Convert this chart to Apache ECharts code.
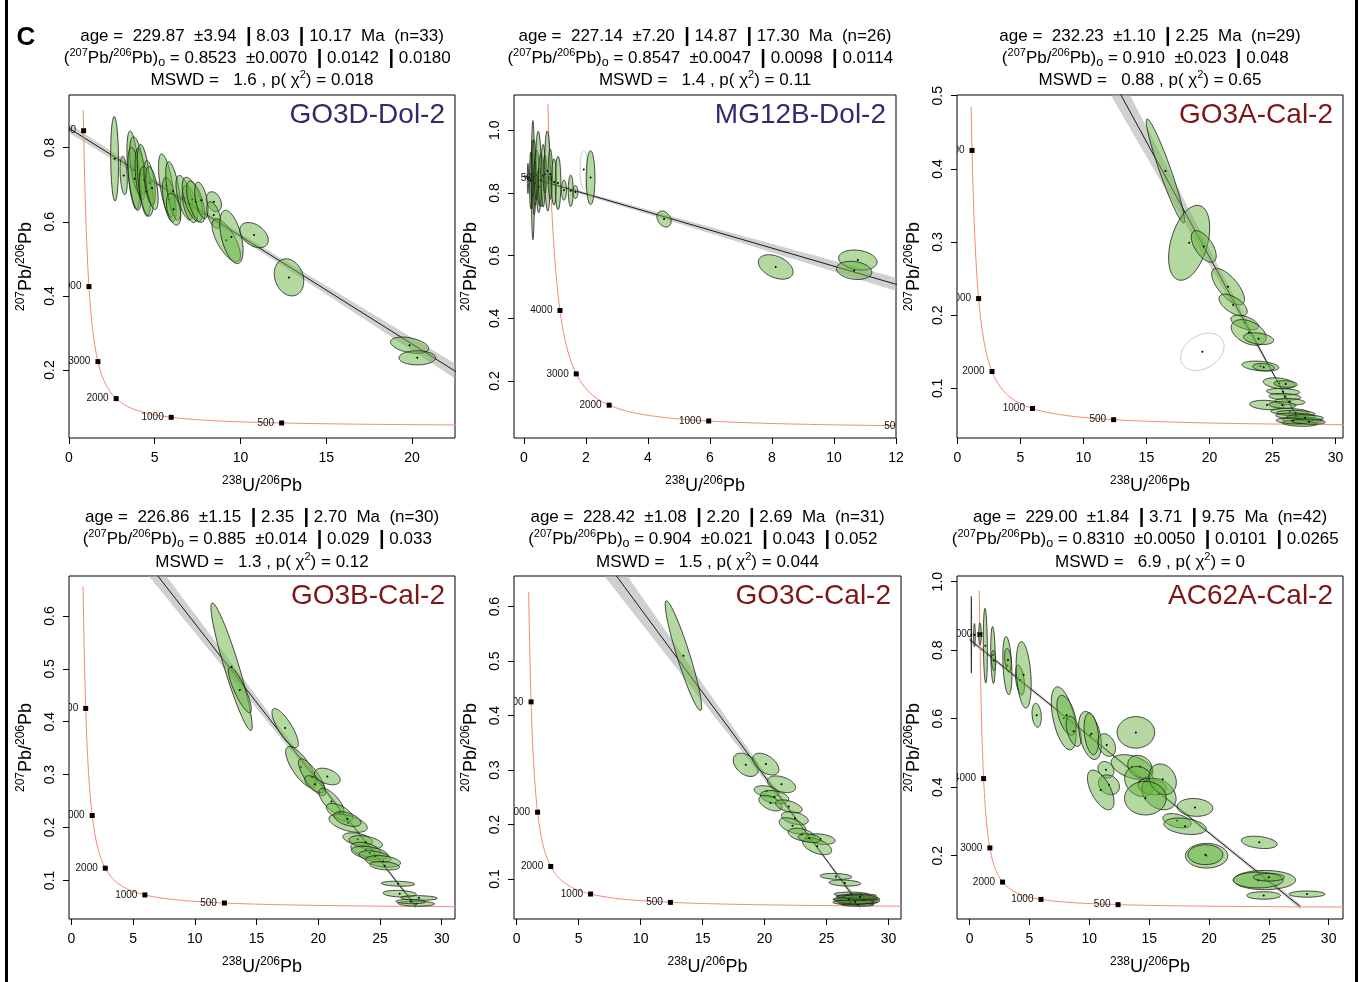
<!DOCTYPE html>
<html><head><meta charset="utf-8">
<script src="https://cdn.jsdelivr.net/npm/echarts@6/dist/echarts.min.js"></script>
<style>html,body{margin:0;padding:0;background:#fff}#c{width:1361px;height:982px}</style>
</head><body><div id="c"></div><script>
// ---------------- data ----------------
const sampleNames = ['GO3D-Dol-2','MG12B-Dol-2','GO3A-Cal-2','GO3B-Cal-2','GO3C-Cal-2','AC62A-Cal-2'];
const ageTxt  = ['229.87','227.14','232.23','226.86','228.42','229.00'];
const ageErrs = [['3.94','8.03','10.17'],['7.20','14.87','17.30'],['1.10','2.25'],['1.15','2.35','2.70'],['1.08','2.20','2.69'],['1.84','3.71','9.75']];
const nPts    = [33,26,29,30,31,42];
const y0Txt   = ['0.8523','0.8547','0.910','0.885','0.904','0.8310'];
const y0Errs  = [['0.0070','0.0142','0.0180'],['0.0047','0.0098','0.0114'],['0.023','0.048'],['0.014','0.029','0.033'],['0.021','0.043','0.052'],['0.0050','0.0101','0.0265']];
const mswdTxt = ['1.6','1.4','0.88','1.3','1.5','6.9'];
const pChiTxt = ['0.018','0.11','0.65','0.12','0.044','0'];

const xRange = [[0,22.51],[-0.32,12.0],[-0.03,30.6],[-0.19,31.08],[-0.215,31.0],[-1.06,31.2]];
const yRange = [[0.0167,0.942],[0.0183,1.1126],[0.0322,0.501],[0.027,0.6756],[0.0267,0.6562],[0.0153,1.0165]];
const xTicks = [[0,5,10,15,20],[0,2,4,6,8,10,12],[0,5,10,15,20,25,30],[0,5,10,15,20,25,30],[0,5,10,15,20,25,30],[0,5,10,15,20,25,30]];
const yTicks = [[0.2,0.4,0.6,0.8],[0.2,0.4,0.6,0.8,1.0],[0.1,0.2,0.3,0.4,0.5],[0.1,0.2,0.3,0.4,0.5,0.6],[0.1,0.2,0.3,0.4,0.5,0.6],[0.2,0.4,0.6,0.8,1.0]];

const concAges = [500,1000,2000,3000,4000,5000];     // Ma, labelled concordia ticks
const concTop  = [0.919,1.096,0.487,0.657,0.638,0.987]; // upper end of drawn concordia (207/206)
// confidence envelope half-width (207/206 units): [minimum, growth per unit x, x of minimum]
const bandPar  = [[0.007,0.0013,8],[0.005,0.00194,1.5],[0.0015,0.00185,26],[0.002,0.00124,24],[0.002,0.0018,24],[0.004,0.0004,12]];

// ellipses: [238U/206Pb, 207Pb/206Pb, half-width x, half-height y, rho, excluded]
const go3dDol = [
 [2.66,0.770,0.23,0.114,-0.1],[3.19,0.725,0.21,0.052,-0.3],[3.75,0.739,0.37,0.106,-0.5],[3.98,0.750,0.44,0.079,-0.5],
 [3.83,0.716,0.39,0.085,-0.5],[4.15,0.728,0.30,0.070,-0.4],[4.37,0.712,0.39,0.097,-0.5],[4.51,0.682,0.41,0.067,-0.4],
 [4.70,0.705,0.33,0.060,-0.5],[4.84,0.691,0.36,0.058,-0.5],[5.68,0.698,0.46,0.085,-0.6],[5.85,0.660,0.40,0.060,-0.5],
 [6.08,0.683,0.44,0.079,-0.6],[6.10,0.634,0.42,0.043,-0.4],[6.74,0.665,0.50,0.060,-0.6],[7.05,0.648,0.45,0.050,-0.5],
 [7.20,0.660,0.60,0.060,-0.6],[7.39,0.654,0.53,0.056,-0.6],[7.72,0.658,0.39,0.049,-0.5],[8.45,0.654,0.44,0.027,-0.3],
 [8.44,0.618,0.41,0.036,-0.5],[9.17,0.550,0.83,0.058,-0.7],[9.47,0.559,0.68,0.072,-0.5],[10.79,0.564,0.83,0.034,-0.4],
 [12.83,0.450,0.86,0.050,-0.2],[19.86,0.267,1.11,0.022,-0.4],[20.31,0.233,1.07,0.019,0.0]
];
const mg12bDol = [
 [0.13,0.846,0.02,0.048,0],[0.22,0.840,0.04,0.090,0],[0.27,0.860,0.04,0.110,0],[0.29,0.841,0.05,0.190,0],
 [0.33,0.850,0.06,0.120,0],[0.36,0.830,0.05,0.070,0],[0.41,0.857,0.08,0.080,0],[0.47,0.867,0.09,0.130,-0.1],
 [0.50,0.820,0.06,0.060,0],[0.55,0.841,0.08,0.085,0],[0.62,0.855,0.07,0.100,0],[0.68,0.860,0.06,0.060,0],
 [0.76,0.870,0.09,0.128,-0.1],[0.85,0.860,0.07,0.080,0],[0.97,0.835,0.08,0.074,0],[1.10,0.832,0.09,0.085,0],
 [1.29,0.809,0.08,0.032,0],[1.51,0.807,0.08,0.050,0],[1.66,0.803,0.08,0.021,0],[1.93,0.875,0.12,0.061,0,1],
 [2.15,0.849,0.14,0.086,0],[4.52,0.717,0.23,0.0255,-0.3],[8.12,0.564,0.56,0.039,-0.4],[10.77,0.586,0.62,0.032,-0.2],
 [10.65,0.553,0.57,0.029,-0.2]
];
const go3aCal = [
 [16.51,0.397,1.52,0.0712,-0.95],[18.39,0.299,1.63,0.0512,0.4],[19.55,0.294,0.99,0.0216,-0.6],[21.48,0.239,1.30,0.025,-0.7],
 [21.88,0.214,1.12,0.0148,-0.6],[22.80,0.190,1.10,0.010,-0.5],[23.12,0.1765,1.39,0.0175,-0.4],[23.90,0.168,1.19,0.008,-0.3],
 [19.44,0.150,1.72,0.0255,0.3,1],[24.05,0.1305,1.46,0.0068,-0.3],[24.30,0.129,0.86,0.005,-0.2],[25.53,0.107,1.26,0.0075,-0.3],
 [26.05,0.106,0.93,0.0045,-0.2],[25.85,0.0954,1.32,0.0045,-0.2],[25.98,0.0886,1.26,0.0045,-0.2],[26.38,0.0818,1.19,0.0045,-0.2],
 [24.58,0.0773,1.39,0.0064,-0.2],[25.79,0.0773,1.06,0.0045,-0.2],[26.38,0.0681,1.52,0.0045,-0.2],[26.85,0.0659,1.52,0.004,-0.2],
 [26.85,0.0622,1.59,0.004,-0.2],[27.38,0.0568,1.59,0.004,-0.2],[27.17,0.0522,1.39,0.004,-0.2],[27.60,0.060,1.45,0.004,-0.2],
 [26.60,0.0555,1.30,0.004,-0.2],[27.90,0.0545,1.30,0.0035,-0.2]
];
const go3bCal = [
 [12.98,0.504,1.67,0.1206,-0.93],[13.65,0.460,0.93,0.043,-0.85],[17.32,0.388,1.07,0.037,-0.8],[18.60,0.314,1.24,0.039,-0.75],
 [19.50,0.295,1.10,0.035,-0.8],[20.74,0.2965,1.04,0.0157,-0.4],[19.72,0.282,0.81,0.016,-0.6],[21.07,0.249,1.01,0.025,-0.7],
 [21.74,0.2285,1.08,0.017,-0.6],[22.42,0.2083,1.55,0.0173,-0.5],[22.36,0.216,1.10,0.014,-0.5],[23.20,0.178,1.20,0.012,-0.4],
 [23.85,0.172,1.35,0.0126,-0.4],[23.85,0.158,1.21,0.014,-0.4],[24.17,0.152,1.48,0.0126,-0.4],[24.60,0.145,1.30,0.011,-0.4],
 [25.25,0.1359,1.42,0.011,-0.3],[25.38,0.1277,1.21,0.008,-0.3],[26.46,0.0937,1.35,0.0047,-0.2],[26.60,0.0748,1.35,0.0063,-0.2],
 [28.16,0.0667,1.48,0.0044,-0.1],[27.95,0.056,1.48,0.0047,-0.1],[27.50,0.060,1.20,0.004,-0.1]
];
const go3cCal = [
 [13.45,0.510,1.47,0.1006,-0.93],[18.48,0.3097,1.01,0.0214,-0.4],[20.10,0.311,1.05,0.020,-0.5],[21.36,0.274,1.14,0.0153,-0.4],
 [20.15,0.261,1.00,0.0104,-0.3],[20.80,0.2504,1.14,0.012,-0.3],[20.47,0.2394,0.94,0.0144,-0.5],[21.95,0.2333,1.08,0.012,-0.5],
 [22.44,0.2118,1.08,0.012,-0.4],[22.25,0.1978,1.08,0.0147,-0.5],[22.98,0.1813,1.08,0.012,-0.4],[24.51,0.1733,1.18,0.0098,-0.3],
 [24.24,0.160,1.17,0.0153,-0.5],[23.60,0.175,0.90,0.008,-0.3],[25.75,0.1049,1.28,0.0055,-0.2],[26.47,0.0927,1.28,0.0055,-0.2],
 [27.0,0.072,1.4,0.004,-0.1],[27.3,0.068,1.5,0.004,-0.1],[27.5,0.064,1.6,0.004,-0.1],[27.2,0.061,1.6,0.004,-0.1],
 [27.6,0.058,1.5,0.004,-0.1],[27.4,0.055,1.4,0.003,-0.1],[27.8,0.070,1.2,0.003,-0.1],[27.1,0.066,1.3,0.004,-0.1],
 [27.9,0.060,1.4,0.004,-0.1],[27.5,0.053,1.3,0.003,-0.1],[26.9,0.057,1.4,0.004,-0.1],[28.0,0.064,1.3,0.003,-0.1],
 [27.3,0.0585,1.5,0.004,-0.1],[26.8,0.063,1.3,0.003,-0.1],[27.7,0.067,1.4,0.004,-0.1]
];
const ac62aCal = [
 [0.14,0.845,0.02,0.112,0],[0.40,0.844,0.07,0.034,0],[0.86,0.847,0.11,0.032,0],[1.31,0.813,0.17,0.109,-0.2],
 [1.95,0.786,0.19,0.083,-0.2],[2.00,0.770,0.18,0.030,-0.2],[3.15,0.755,0.38,0.085,-0.3],[3.20,0.771,0.28,0.034,-0.3],
 [4.20,0.713,0.38,0.044,-0.4],[4.51,0.728,0.63,0.097,-0.3],[5.60,0.610,0.39,0.035,-0.2],[7.86,0.601,1.04,0.092,-0.5],
 [8.10,0.610,0.81,0.058,-0.5],[8.69,0.563,0.63,0.044,-0.5],[10.06,0.551,0.95,0.070,-0.4],[10.17,0.556,0.61,0.061,-0.3],
 [11.45,0.523,0.74,0.033,-0.3],[13.89,0.560,1.57,0.046,0],[11.39,0.451,0.67,0.024,-0.2],[11.64,0.407,0.88,0.029,-0.2],
 [10.95,0.392,1.11,0.058,-0.6],[13.57,0.459,1.74,0.036,-0.4],[14.23,0.460,1.02,0.033,-0.2],[14.20,0.417,1.25,0.044,-0.2],
 [15.24,0.402,1.18,0.024,-0.2],[15.82,0.380,1.43,0.046,-0.3],[16.13,0.423,1.14,0.045,-0.2],[14.68,0.368,1.74,0.049,0],
 [18.83,0.341,1.49,0.026,-0.1],[17.33,0.302,1.18,0.021,-0.4],[18.00,0.286,1.77,0.024,-0.3],[19.80,0.200,1.77,0.036,0],
 [19.70,0.203,1.46,0.029,0],[24.20,0.239,1.50,0.018,-0.3],[24.65,0.129,2.59,0.028,0],[24.10,0.129,2.09,0.023,0],
 [25.00,0.137,1.30,0.011,0],[24.57,0.084,1.41,0.011,0],[28.19,0.088,1.50,0.009,0]
];
const ellipseSets = [go3dDol, mg12bDol, go3aCal, go3bCal, go3cCal, ac62aCal];

// ---------------- layout / style ----------------
const F = '"Liberation Sans", Arial, sans-serif';
const grids = [
 {left:69, top:95, width:386, height:343},
 {left:514, top:95, width:382, height:343},
 {left:957, top:95, width:386, height:343},
 {left:69, top:576, width:386, height:343},
 {left:514, top:576, width:387, height:343},
 {left:957, top:576, width:386, height:343}
];
const nameColors = ['#2e2c6e','#2e2c6e','#7e1618','#7e1618','#7e1618','#7e1618'];

// Tera-Wasserburg concordia model (decay constants per Ma)
const L238 = 1.55125e-4, L235 = 9.8485e-4, U85 = 137.818;
function tw(t){ const e8 = Math.exp(L238*t)-1, e5 = Math.exp(L235*t)-1; return [1/e8, e5/e8/U85]; }
function concordia(i){
  const pts = [];
  for (let k=0;k<=700;k++){ const t = 40*Math.pow(6000/40, k/700); const p = tw(t); if (p[1] <= concTop[i]) pts.push(p); }
  return pts;
}

function ellipseItem(params, api){
  const cx=api.value(0), cy=api.value(1), ex=api.value(2), ey=api.value(3), r=api.value(4), excl=api.value(5)===1;
  const q = Math.sqrt(Math.max(0,1-r*r));
  const pts = [];
  for (let k=0;k<72;k++){ const t=k/72*2*Math.PI, c=Math.cos(t), s=Math.sin(t);
    pts.push(api.coord([cx+ex*c, cy+ey*(r*c+q*s)])); }
  const ctr = api.coord([cx,cy]);
  return {type:'group', children:[
    {type:'polygon', shape:{points:pts}, style: excl ? {fill:'none', stroke:'#bcbcbc', lineWidth:0.8}
                                                    : {fill:'rgba(103,179,65,0.5)', stroke:'#1c1c1c', lineWidth:0.8}},
    {type:'circle', shape:{cx:ctr[0], cy:ctr[1], r:1}, style:{fill:'#000'}}
  ]};
}
function markerItem(params, api){
  const c = api.coord([api.value(0), api.value(1)]);
  return {type:'group', children:[
    {type:'rect', shape:{x:c[0]-2.5, y:c[1]-2.5, width:5, height:5}, style:{fill:'#000'}},
    {type:'text', x:c[0]-7.5, y:c[1], style:{text:String(api.value(2)), fontSize:10, fontFamily:F, fill:'#111', align:'right', verticalAlign:'middle'}}
  ]};
}
function bandItem(i){
  return function(params, api){
    const y0 = parseFloat(y0Txt[i]); const lt = tw(parseFloat(ageTxt[i]));
    const slope = (lt[1]-y0)/lt[0]; const [wa,wb,xc] = bandPar[i];
    const up=[], lo=[];
    for (let k=0;k<=120;k++){ const x = lt[0]*k/120, yl = y0+slope*x, w = Math.sqrt(wa*wa+Math.pow(wb*(x-xc),2));
      up.push(api.coord([x,yl+w])); lo.push(api.coord([x,yl-w])); }
    return {type:'polygon', shape:{points:up.concat(lo.reverse())}, style:{fill:'rgba(170,170,170,0.55)'}};
  };
}

const richT = {
  sup:{fontSize:11, fontFamily:F, lineHeight:10, verticalAlign:'top', fill:'#000'},
  sub:{fontSize:12.5, fontFamily:F, lineHeight:10, verticalAlign:'bottom', fill:'#000'},
  bar:{fontSize:20, fontFamily:F, fontWeight:'bold', lineHeight:22, fill:'#000'}
};
const richA = {
  sup:{fontSize:12, fontFamily:F, lineHeight:11, verticalAlign:'top', fill:'#000'}
};

const xAxes=[], yAxes=[], series=[], graphics=[];
for (let i=0;i<6;i++){
  const g = grids[i];
  xAxes.push({type:'value', gridIndex:i, min:xRange[i][0], max:xRange[i][1],
    axisLine:{show:false, onZero:false}, splitLine:{show:false},
    axisTick:{show:true, inside:false, length:6, lineStyle:{color:'#000', width:1}, customValues:xTicks[i]},
    axisLabel:{customValues:xTicks[i], margin:13, fontSize:14, color:'#000', fontFamily:F, formatter:v=>String(v)}});
  yAxes.push({type:'value', gridIndex:i, min:yRange[i][0], max:yRange[i][1],
    axisLine:{show:false, onZero:false}, splitLine:{show:false},
    axisTick:{show:true, inside:false, length:6, lineStyle:{color:'#000', width:1}, customValues:yTicks[i]},
    axisLabel:{customValues:yTicks[i], rotate:90, margin:12, fontSize:14, color:'#000', fontFamily:F, formatter:v=>v.toFixed(1)}});

  const y0 = parseFloat(y0Txt[i]); const lt = tw(parseFloat(ageTxt[i]));
  series.push({type:'custom', xAxisIndex:i, yAxisIndex:i, data:[[0,0]], renderItem:bandItem(i), clip:true, silent:true, z:1});
  series.push({type:'line', xAxisIndex:i, yAxisIndex:i, data:[[0,y0],[lt[0],lt[1]]], symbol:'none', clip:true, silent:true,
    lineStyle:{color:'#1a1a1a', width:1}, z:2});
  series.push({type:'line', xAxisIndex:i, yAxisIndex:i, data:concordia(i), symbol:'none', showSymbol:false, clip:true, silent:true,
    lineStyle:{color:'#f08a6e', width:1}, z:2});
  series.push({type:'custom', xAxisIndex:i, yAxisIndex:i,
    data:concAges.map(a => { const p = tw(a); return [p[0], p[1], a]; }), encode:{x:0,y:1},
    renderItem:markerItem, clip:true, silent:true, z:3});
  series.push({type:'custom', xAxisIndex:i, yAxisIndex:i, dimensions:['x','y','ex','ey','rho','excl'],
    data:ellipseSets[i].map(d => d.length>5 ? d : d.concat([0])), encode:{x:0,y:1},
    renderItem:ellipseItem, clip:true, silent:true, z:4});

  const cx = g.left + g.width/2, row = i<3 ? 0 : 1;
  const ty = row===0 ? [36,58,80] : [517,539,562];
  const errs = ageErrs[i], yerrs = y0Errs[i];
  const l1 = 'age =  ' + ageTxt[i] + '  ±' + errs[0] + '  ' + errs.slice(1).map(e => '{bar||} ' + e + '  ').join('') + 'Ma  (n=' + nPts[i] + ')';
  const l2 = '({sup|207}Pb/{sup|206}Pb){sub|o} = ' + y0Txt[i] + '  ±' + yerrs[0] + '  ' + yerrs.slice(1).map(e => '{bar||} ' + e + '  ').join('');
  const l3 = 'MSWD =   ' + mswdTxt[i] + ' , p( χ{sup|2}) = ' + pChiTxt[i];
  [l1,l2,l3].forEach((t,k) => graphics.push({type:'text', x:cx, y:ty[k], z:10,
    style:{text:t, fontSize:17, fontFamily:F, fill:'#000', align:'center', verticalAlign:'middle', lineHeight:22, rich:richT}}));
  graphics.push({type:'text', x:g.left+g.width-10, y:g.top+20, z:10,
    style:{text:sampleNames[i], fontSize:28, fontFamily:F, fill:nameColors[i], align:'right', verticalAlign:'middle'}});
  graphics.push({type:'text', x:cx, y:g.top+g.height+48, z:10,
    style:{text:'{sup|238}U/{sup|206}Pb', fontSize:18, fontFamily:F, fill:'#000', align:'center', verticalAlign:'middle', lineHeight:22, rich:richA}});
  graphics.push({type:'text', x:g.left-43, y:g.top+g.height/2, rotation:Math.PI/2, z:10,
    style:{text:'{sup|207}Pb/{sup|206}Pb', fontSize:18, fontFamily:F, fill:'#000', align:'center', verticalAlign:'middle', lineHeight:22, rich:richA}});
}
graphics.push({type:'text', x:26, y:38, z:10, style:{text:'C', fontSize:26, fontWeight:'bold', fontFamily:F, fill:'#000', align:'center', verticalAlign:'middle'}});
graphics.push({type:'line', z:10, shape:{x1:6.5, y1:0, x2:6.5, y2:982}, style:{stroke:'#000', lineWidth:3}});
graphics.push({type:'line', z:10, shape:{x1:1356.5, y1:0, x2:1356.5, y2:982}, style:{stroke:'#000', lineWidth:3}});

const chart = echarts.init(document.getElementById('c'), null, {renderer:'canvas'});
chart.setOption({
  animation:false,
  backgroundColor:'#fff',
  grid: grids.map(g => Object.assign({show:true, borderColor:'#000', borderWidth:1, backgroundColor:'transparent', containLabel:false}, g)),
  xAxis: xAxes, yAxis: yAxes, series: series, graphic: graphics
});
</script></body></html>
